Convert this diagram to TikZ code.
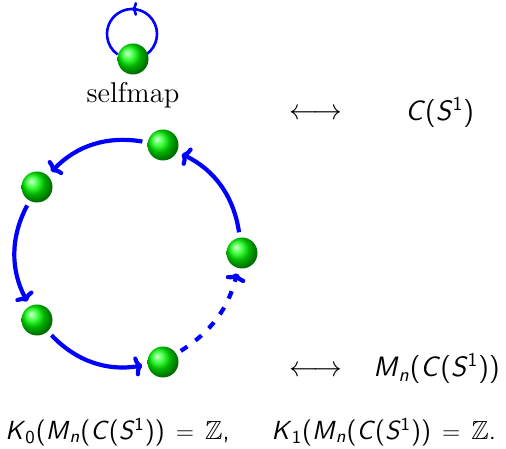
\documentclass[tikz,border=0pt]{standalone}
\usepackage{amssymb}
\usetikzlibrary{arrows.meta,decorations.markings,shadings,calc}
\newcommand\vv[1]{\textit{#1}}
\newcommand\mfont{\fontsize{14}{17}\selectfont\sffamily}
\newcommand\kfont{\fontsize{13.1}{15}\selectfont\sffamily}
\newcommand\eqz{\hspace{5.5pt}$=$\hspace{5.5pt}$\mathbb{Z}$}
\tikzset{
  ballnode/.style={circle,minimum size=15.5pt,inner sep=0pt,ball color=green},
  cyc/.style={blue,line width=2.1pt,-{To[length=4pt,width=10pt]},shorten <=2.5pt,shorten >=2.5pt},
  dcyc/.style={cyc,dash pattern=on 4pt off 5pt},
  loopline/.style={blue,line width=1.3pt,postaction={decorate},
    decoration={markings,mark=at position 0.5 with {\arrow{To[length=2.5pt,width=7pt]}}}},
  mtext/.style={inner sep=0pt,font=\mfont},
}
\begin{document}
\begin{tikzpicture}[x=0.5pt,y=0.5pt]
\useasboundingbox (0,0) rectangle (506,448);
% self loop
\coordinate (lc) at (132,414);
\draw[loopline] ($(lc)+(-55:25)$) arc[start angle=-55,end angle=235,radius=25];
\node[ballnode] (s) at (133,389) {};
\node[anchor=base,inner sep=0pt,font=\fontsize{14.3}{17}\selectfont] (lab) at (133,345) {selfmap};
% cycle
\node[ballnode] (T) at (163,303) {};
\node[ballnode] (UL) at (37,261) {};
\node[ballnode] (LL) at (37,128) {};
\node[ballnode] (B) at (163,86) {};
\node[ballnode] (R) at (242,195) {};
\draw[cyc] (T) to[bend right=28] (UL);
\draw[cyc] (UL) to[bend right=28] (LL);
\draw[cyc] (LL) to[bend right=28] (B);
\draw[dcyc] (B) to[bend right=22] (R);
\draw[cyc] (R) to[bend right=28] (T);
% right texts
\node[mtext,anchor=base] (a1) at (316,328) {$\longleftrightarrow$};
\node[mtext,anchor=base west] (c1) at (405,327) {\vv{C}(\vv{S}\textsuperscript{1})};
\node[mtext,anchor=base] (a2) at (316,71) {$\longleftrightarrow$};
\node[mtext,anchor=base west] (c2) at (373,71) {\vv{M}\textsubscript{\vv{n}}(\vv{C}(\vv{S}\textsuperscript{1}))};
\node[inner sep=0pt,font=\kfont,anchor=base west] (k) at (5,9) {\vv{K}\textsubscript{0}(\vv{M}\textsubscript{\vv{n}}(\vv{C}(\vv{S}\textsuperscript{1}))\eqz,\hspace{21pt}\vv{K}\textsubscript{1}(\vv{M}\textsubscript{\vv{n}}(\vv{C}(\vv{S}\textsuperscript{1}))\eqz.};
\end{tikzpicture}
\end{document}
